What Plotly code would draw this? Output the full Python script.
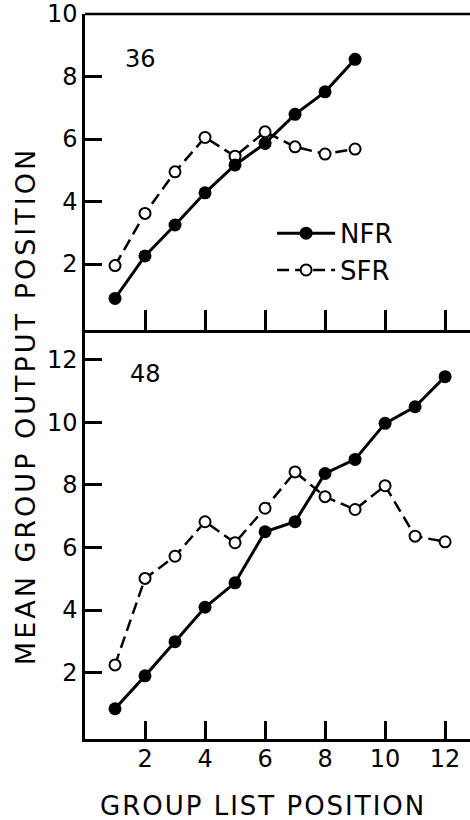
import plotly.graph_objects as go

# ---- data ----
x36 = [1, 2, 3, 4, 5, 6, 7, 8, 9]
nfr36 = [0.9, 2.26, 3.25, 4.28, 5.17, 5.86, 6.79, 7.51, 8.55]
sfr36 = [1.95, 3.62, 4.95, 6.05, 5.45, 6.23, 5.75, 5.52, 5.68]

x48 = [1, 2, 3, 4, 5, 6, 7, 8, 9, 10, 11, 12]
nfr48 = [0.85, 1.90, 2.99, 4.09, 4.87, 6.50, 6.82, 8.36, 8.81, 9.96, 10.49, 11.45]
sfr48 = [2.25, 5.01, 5.72, 6.82, 6.15, 7.25, 8.41, 7.62, 7.21, 7.97, 6.36, 6.18]

xticks = [2, 4, 6, 8, 10, 12]
yticks_top = [2, 4, 6, 8, 10]
yticks_bot = [2, 4, 6, 8, 10, 12]
panel_labels = ["36", "48"]
series_names = ["NFR", "SFR"]
x_title = "GROUP LIST POSITION"
y_title = "MEAN GROUP OUTPUT POSITION"

FONT = "DejaVu Sans"
BLACK = "#000000"

fig = go.Figure()

def add_pair(xs, nfr, sfr, xa, ya, show):
    fig.add_trace(go.Scatter(
        x=xs, y=sfr, mode="lines+markers", name=series_names[1],
        line=dict(color=BLACK, width=2.5, dash="12px,6px"),
        marker=dict(symbol="circle", size=11, color="white",
                    line=dict(color=BLACK, width=2)),
        xaxis=xa, yaxis=ya, showlegend=show, legendrank=2))
    fig.add_trace(go.Scatter(
        x=xs, y=nfr, mode="lines+markers", name=series_names[0],
        line=dict(color=BLACK, width=3),
        marker=dict(symbol="circle", size=13, color=BLACK),
        xaxis=xa, yaxis=ya, showlegend=show, legendrank=1))

add_pair(x36, nfr36, sfr36, "x", "y", True)
add_pair(x48, nfr48, sfr48, "x2", "y2", False)

split = (739 - 330) / 725.0
xr = [0, 12.83]

axis_common = dict(showline=True, linecolor=BLACK, linewidth=2.5,
                   ticks="inside", tickcolor=BLACK, tickwidth=2.5,
                   showgrid=False, zeroline=False,
                   tickfont=dict(family=FONT, size=24, color=BLACK))

fig.update_layout(
    width=470, height=820,
    margin=dict(l=85, r=0, t=14, b=81),
    paper_bgcolor="white", plot_bgcolor="white",
    xaxis=dict(domain=[0, 1], range=xr, anchor="y", tickvals=xticks,
               ticklen=20, showticklabels=False, **axis_common),
    yaxis=dict(domain=[split, 1], range=[-0.11, 10], anchor="x",
               tickvals=yticks_top, ticklen=17, ticklabelstandoff=0,
               **axis_common),
    xaxis2=dict(domain=[0, 1], range=xr, anchor="y2", tickvals=xticks,
                ticklen=18, ticklabelstandoff=-4, **axis_common),
    yaxis2=dict(domain=[0, split], range=[-0.115, 12.94], anchor="x2",
                tickvals=yticks_bot, ticklen=17, ticklabelstandoff=0,
                **axis_common),
    legend=dict(x=0.486, y=0.73, xanchor="left", yanchor="top",
                bgcolor="rgba(0,0,0,0)", traceorder="normal",
                font=dict(family=FONT, size=26, color=BLACK),
                itemwidth=58, tracegroupgap=0),
    showlegend=True,
)

# top frame line of the upper panel
fig.add_shape(type="line", xref="paper", yref="paper", x0=0, x1=1, y0=1, y1=1,
              line=dict(color=BLACK, width=2.5))

fig.add_annotation(text=panel_labels[0], xref="paper", yref="paper",
                   x=0.143, y=0.938, showarrow=False,
                   xanchor="center", yanchor="middle",
                   font=dict(family=FONT, size=24, color=BLACK))
fig.add_annotation(text=panel_labels[1], xref="paper", yref="paper",
                   x=0.158, y=0.503, showarrow=False,
                   xanchor="center", yanchor="middle",
                   font=dict(family=FONT, size=24, color=BLACK))

fig.add_annotation(text=x_title, xref="paper", yref="paper",
                   x=0.4636, y=-0.0924, showarrow=False,
                   xanchor="center", yanchor="middle",
                   font=dict(family=FONT, size=26, color=BLACK))
fig.add_annotation(text=y_title, xref="paper", yref="paper",
                   x=-0.156, y=0.459, showarrow=False, textangle=-90,
                   xanchor="center", yanchor="middle",
                   font=dict(family=FONT, size=27, color=BLACK))

post = """
var gd = document.getElementById('{plot_id}');
function spaceOut(){
  gd.querySelectorAll('text').forEach(function(t){
    var s = t.textContent;
    if (s === 'GROUP LIST POSITION') t.style.letterSpacing = '2px';
    if (s === 'MEAN GROUP OUTPUT POSITION') t.style.letterSpacing = '3px';
  });
}
spaceOut();
gd.on('plotly_afterplot', spaceOut);
"""

fig.write_html("out.html", post_script=post)
